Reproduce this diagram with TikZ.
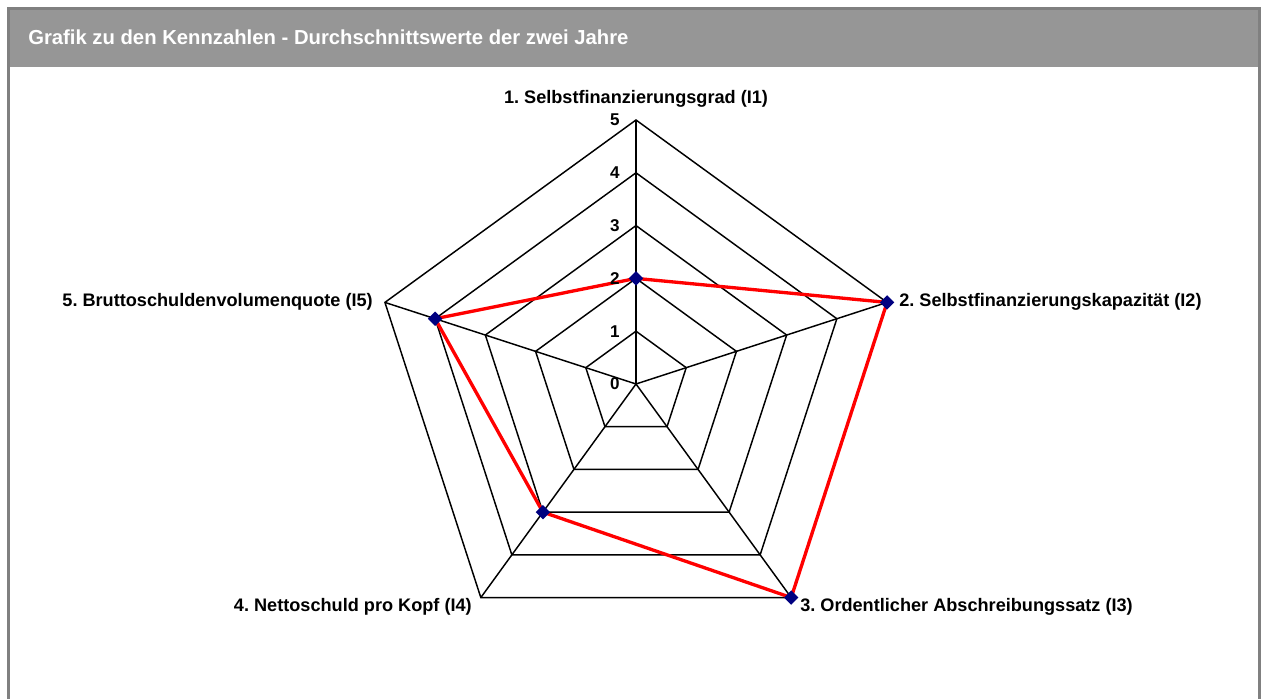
\documentclass[tikz,border=0pt]{standalone}
\usepackage{fontspec}
\setmainfont{Liberation Sans}
\usetikzlibrary{shapes.geometric}
\definecolor{hdrgray}{RGB}{150,150,150}
\definecolor{framegray}{RGB}{128,128,128}
\definecolor{navyblue}{RGB}{0,0,128}
\frenchspacing
\begin{document}
\frenchspacing
\begin{tikzpicture}[x=0.75pt,y=0.75pt,
  gridline/.style={black,line width=1.1pt},
  dataline/.style={red,line width=2.5pt,line join=round},
  dia/.style={diamond,fill=navyblue,draw=none,inner sep=0pt,minimum width=11pt,minimum height=11pt},
  catlabel/.style={inner sep=0pt,font=\fontsize{13.6}{16}\selectfont\bfseries},
  vallabel/.style={inner sep=0pt,anchor=east,font=\fontsize{12.8}{15}\selectfont\bfseries},
  hdrtext/.style={inner sep=0pt,anchor=base west,text=white,font=\fontsize{15.2}{18}\selectfont\bfseries}]
\useasboundingbox (0,0) rectangle (1261,699);
\fill[white] (0,0) rectangle (1261,699);
% header and frame
\fill[hdrgray] (8.5,632) rectangle (1259.5,690.5);
\draw[framegray,line width=2.25pt] (8.5,-3) -- (8.5,690.5) -- (1259.8,690.5) -- (1259.8,-3);
\node[hdrtext] (title) at (28,654.7) {Grafik zu den Kennzahlen - Durchschnittswerte der zwei Jahre};
% radar chart
\coordinate (C) at (636,315);
\begin{scope}[shift={(636,315)}]
  \foreach \k in {1,...,5} {
    \coordinate (v\k) at ({90-72*(\k-1)}:264);
  }
  \foreach \r in {1,...,5} {
    \draw[gridline,line join=miter] (90:52.8*\r) -- (18:52.8*\r) -- (-54:52.8*\r) -- (-126:52.8*\r) -- (-198:52.8*\r) -- cycle;
  }
  \foreach \k in {1,...,5} {
    \draw[gridline] (C) -- (v\k);
  }
  \coordinate (d1) at (90:105.6);
  \coordinate (d2) at (18:264);
  \coordinate (d3) at (-54:264);
  \coordinate (d4) at (-126:158.4);
  \coordinate (d5) at (-198:211.2);
\end{scope}
\draw[dataline] (d1) -- (d2) -- (d3) -- (d4) -- (d5) -- cycle;
\foreach \k in {1,...,5} {
  \node[dia] (p\k) at (d\k) {};
}
% value labels
\foreach \v in {0,...,5} {
  \node[vallabel] (val\v) at (620,{315+52.8*\v}) {\v};
}
% category labels
\node[catlabel,anchor=base] (lab1) at (636,595) {1. Selbstfinanzierungsgrad (I1)};
\node[catlabel,anchor=base west] (lab2) at (899,392) {2. Selbstfinanzierungskapazität (I2)};
\node[catlabel,anchor=base west] (lab3) at (800,87) {3. Ordentlicher Abschreibungssatz (I3)};
\node[catlabel,anchor=base east] (lab4) at (472,87) {4. Nettoschuld pro Kopf (I4)};
\node[catlabel,anchor=base east] (lab5) at (373,392) {5. Bruttoschuldenvolumenquote (I5)};
\end{tikzpicture}
\end{document}
